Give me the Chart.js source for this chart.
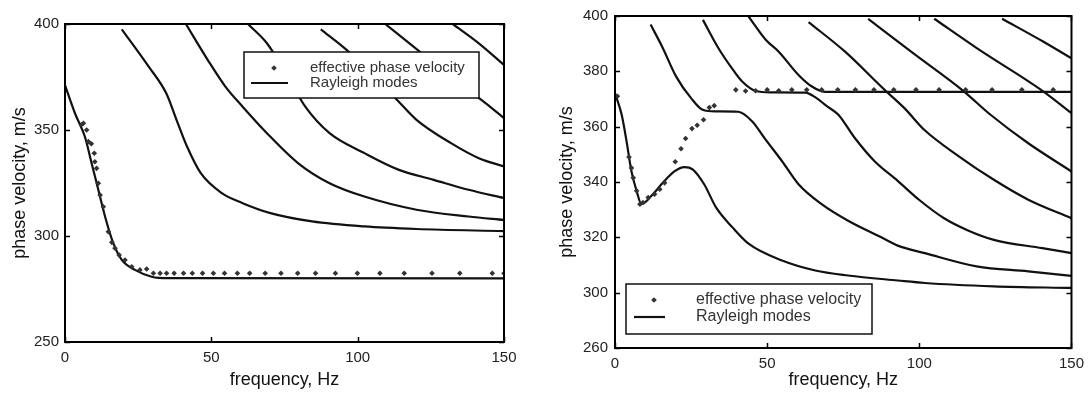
<!DOCTYPE html>
<html>
<head>
<meta charset="utf-8">
<script src="https://cdn.jsdelivr.net/npm/chart.js@4.4.1/dist/chart.umd.min.js"></script>
<style>
  body { margin: 0; background: #fff; }
  #wrap { position: relative; width: 1091px; height: 399px; }
  #left { position: absolute; left: 0; top: 0; }
  #right { position: absolute; left: 545px; top: 0; }
</style>
</head>
<body>
<div id="wrap">
  <canvas id="left" width="545" height="399"></canvas>
  <canvas id="right" width="546" height="399"></canvas>
</div>
<script>
// ---- left panel: [frequency Hz, phase velocity m/s] ----
var leftEffective = [[5.6,352.5],[6.3,353.2],[7.4,350],[8.0,344.5],[9.0,343.5],[10.0,339],[10.2,335],[10.8,331.9],
  [11.4,324.9],[12.0,319.3],[13.1,313.8],[14.8,302],[16.0,297],[17.1,294.2],[18.5,291],[20.5,288.7],[22.8,285.5],
  [25.6,284],[27.9,284.4],[30.2,282.4],[32.5,282.4],[34.7,282.4],[37.3,282.4],[40.5,282.4],[43.5,282.4],[47.0,282.4],
  [50.7,282.4],[54.5,282.4],[58.9,282.4],[63.1,282.4],[68.4,282.4],[73.8,282.4],[79.5,282.4],[85.6,282.4],[92.4,282.4],
  [99.9,282.4],[107.6,282.4],[115.9,282.4],[125.4,282.4],[134.9,282.4],[146.0,282.4],[150,282.4]];
var leftMode0 = [[0,371.2],[3.4,357.9],[6.8,346.8],[9.1,334.3],[11.4,321.7],[13.7,309.1],[16.5,296.6],[19.4,288.7],
  [23.9,284],[29.6,280.8],[35.3,280.1],[150,280]];
var leftMode1 = [[19.4,397.5],[28.6,379.9],[34.6,367.3],[38.1,354.8],[41.7,342.2],[46.4,329.6],[53.6,320.2],[60.7,315.5],
  [70.2,310.8],[84.4,306.9],[102.3,304.5],[120.1,303.3],[150,302.3]];
var leftMode2 = [[41.3,400],[48.8,383],[54.8,370.5],[60.7,361],[69,348.5],[79.7,334.3],[90.4,324.9],[102.3,318.6],
  [120.1,312.4],[137.9,309.2],[150,307.6]];
var leftMode3 = [[62.5,400],[69,390.9],[76.1,375.2],[82.1,361],[90.4,348.5],[102.3,339.1],[114.1,331.2],[126,326.5],
  [137.9,321.8],[150,317.9]];
var leftMode4 = [[87.4,397.5],[96.3,387.7],[112.9,365],[120.1,354.8],[131.9,343.8],[141.4,336.7],[150,332.8]];
var leftMode5 = [[109.4,400],[117.7,390.9],[131.9,375.1],[143.8,362.6],[150,355.6]];
var leftMode6 = [[132.5,400],[141.4,390.9],[150,380.7]];
var leftXTicks = [0, 50, 100, 150];
var leftYTicks = [250, 300, 350, 400];

// ---- right panel ----
var rightEffective = [[0.8,371],[4.6,349],[5.4,345.1],[6.0,341.5],[7.1,336.8],[8.2,332],[9.2,332.6],[10.9,334.4],
  [13.0,335.6],[14.7,337.4],[16.3,339.7],[19.8,347.3],[21.7,352],[23.2,355.7],[25.3,359.3],[27.0,360.5],[29.1,362.5],
  [31.0,366.9],[32.6,367.6],[39.7,373.3],[42.9,372.9],[46.2,373],[50.0,373.3],[53.8,373],[58.1,373.3],[63.0,373.3],
  [67.9,373.3],[73.2,373.3],[79.0,373.3],[85.1,373.3],[91.6,373.3],[98.9,373.3],[106.5,373.3],[115.2,373.3],
  [123.9,373.3],[133.7,373.3],[144.0,373.3]];
var rightMode0 = [[0,372.1],[2.2,364.3],[3.8,354.7],[5.4,343.9],[7.1,336.8],[8.7,332],[12.0,335],[15.7,339.7],
  [19.6,343.9],[22.8,345.4],[25.5,344.6],[29.3,339.2],[33.2,330.8],[38.6,323.6],[44,317.6],[54.9,311.6],[65.8,308],
  [76.6,306.2],[92.9,304.4],[101.8,303.5],[124.5,302.3],[150,301.7]];
var rightMode1 = [[11.7,396.9],[15.5,388.9],[20.1,378.1],[25.0,370.3],[28.8,366.1],[33,365.5],[40.5,365.4],[45.1,361.9],
  [49.5,355.3],[54.9,347.5],[60.3,339.2],[67.9,332],[76.6,326],[87.5,320],[92.9,317],[101.8,314.3],[118.8,309.5],
  [135.8,307.7],[150,306.1]];
var rightMode2 = [[28.9,398.6],[33.7,388.9],[38.8,380.5],[41.8,376.3],[46.2,372.9],[51.1,372.4],[62.5,372.3],[66,370.5],
  [69.5,367.5],[73.4,364.3],[78.8,355.9],[85.3,347.5],[92.9,340.4],[100,333.5],[108,327],[116,322.5],[124.5,319.1],
  [140.4,316.1],[150,314.3]];
var rightMode3 = [[43.9,399.8],[49.6,391.3],[53.8,387.1],[60.3,378.7],[64.7,374.5],[69,372.6],[150,372.6]];
var rightMode4 = [[63.6,397.8],[75.6,387.1],[88.6,373.3],[95.1,366.7],[101.6,358.9],[113.1,349.2],[124.5,340.8],
  [135.8,333.6],[150,326.9]];
var rightMode5 = [[83.2,399],[97.3,387.1],[114.7,372.7],[123.4,364.3],[135.8,354],[150,343.8]];
var rightMode6 = [[104.9,399],[119,388.3],[140.8,372.7],[150,364.9]];
var rightMode7 = [[127.2,399],[140.8,390.7],[150,384.7]];
var rightXTicks = [0, 50, 100, 150];
var rightYTicks = [280, 300, 320, 340, 360, 380, 400];
var rightYLabels = ['260', '300', '320', '340', '360', '380', '400'];

var legendTexts = ['effective phase velocity', 'Rayleigh modes'];
var FONT = '"Liberation Sans", Arial, sans-serif';

function pts(arr) {
  return arr.map(function(p) { return {x: p[0], y: p[1]}; });
}

function lineSet(arr) {
  return {
    data: pts(arr),
    showLine: true,
    borderColor: '#111',
    borderWidth: 2.2,
    pointRadius: 0,
    cubicInterpolationMode: 'monotone',
    order: 2
  };
}

function dotSet(arr) {
  return {
    data: pts(arr),
    showLine: false,
    pointStyle: 'rectRot',
    pointRadius: 2.8,
    backgroundColor: '#333',
    borderColor: '#333',
    borderWidth: 0,
    order: 1
  };
}

// border + inward ticks on all four sides
var framePlugin = {
  id: 'frame',
  afterDatasetsDraw: function(chart) {
    var ctx = chart.ctx, a = chart.chartArea, sx = chart.scales.x, sy = chart.scales.y;
    ctx.save();
    ctx.strokeStyle = '#000';
    ctx.lineWidth = 1.5;
    ctx.beginPath();
    sx.ticks.forEach(function(t) {
      var px = Math.round(sx.getPixelForValue(t.value)) + 0.5;
      ctx.moveTo(px, a.bottom); ctx.lineTo(px, a.bottom - 5);
      ctx.moveTo(px, a.top); ctx.lineTo(px, a.top + 5);
    });
    sy.ticks.forEach(function(t) {
      var py = Math.round(sy.getPixelForValue(t.value)) + 0.5;
      ctx.moveTo(a.left, py); ctx.lineTo(a.left + 5, py);
      ctx.moveTo(a.right, py); ctx.lineTo(a.right - 5, py);
    });
    ctx.stroke();
    ctx.lineWidth = 2;
    ctx.strokeRect(a.left, a.top, a.right - a.left, a.bottom - a.top);
    ctx.restore();
  }
};

// boxed legend drawn inside the plot
var boxLegendPlugin = {
  id: 'boxLegend',
  afterDraw: function(chart, args, o) {
    var ctx = chart.ctx;
    ctx.save();
    ctx.fillStyle = '#fff';
    ctx.fillRect(o.x, o.y, o.w, o.h);
    ctx.strokeStyle = '#111';
    ctx.lineWidth = 1.5;
    ctx.strokeRect(o.x, o.y, o.w, o.h);
    // marker sample
    ctx.fillStyle = '#333';
    ctx.beginPath();
    ctx.moveTo(o.dotX, o.row1 - 2.8); ctx.lineTo(o.dotX + 2.8, o.row1);
    ctx.lineTo(o.dotX, o.row1 + 2.8); ctx.lineTo(o.dotX - 2.8, o.row1);
    ctx.closePath(); ctx.fill();
    // line sample
    ctx.strokeStyle = '#111';
    ctx.lineWidth = 2.2;
    ctx.beginPath();
    ctx.moveTo(o.lineX0, o.row2); ctx.lineTo(o.lineX1, o.row2);
    ctx.stroke();
    ctx.fillStyle = '#333';
    ctx.font = o.fontSize + 'px ' + FONT;
    ctx.textBaseline = 'middle';
    ctx.textAlign = 'left';
    ctx.fillText(legendTexts[0], o.textX, o.row1);
    ctx.fillText(legendTexts[1], o.textX, o.row2);
    ctx.restore();
  }
};

function makeChart(id, cfg) {
  return new Chart(document.getElementById(id), {
    type: 'scatter',
    data: { datasets: cfg.datasets },
    plugins: [framePlugin, boxLegendPlugin],
    options: {
      responsive: false,
      animation: false,
      events: [],
      layout: { padding: cfg.padding },
      plugins: {
        legend: { display: false },
        tooltip: { enabled: false },
        boxLegend: cfg.legend
      },
      scales: {
        x: {
          type: 'linear', min: 0, max: 150,
          afterBuildTicks: function(s) { s.ticks = cfg.xTicks.map(function(v) { return {value: v}; }); },
          afterFit: function(s) { s.height = cfg.xHeight; },
          grid: { display: false, drawTicks: false },
          border: { display: false },
          ticks: { color: '#222', font: { family: FONT, size: 15 }, padding: 7, maxRotation: 0 },
          title: { display: true, text: 'frequency, Hz', color: '#111',
                   font: { family: FONT, size: 18 }, padding: { top: 0, bottom: 8 } }
        },
        y: {
          type: 'linear', min: cfg.yMin, max: 400,
          afterBuildTicks: function(s) { s.ticks = cfg.yTicks.map(function(v) { return {value: v}; }); },
          afterFit: function(s) { s.width = cfg.yWidth; },
          grid: { display: false, drawTicks: false },
          border: { display: false },
          ticks: { color: '#222', font: { family: FONT, size: 15 }, padding: cfg.yTickPad,
                   callback: cfg.yLabel },
          title: { display: true, text: 'phase velocity, m/s', color: '#111',
                   font: { family: FONT, size: 18 }, padding: { top: cfg.yTitlePad, bottom: 0 } }
        }
      }
    }
  });
}

makeChart('left', {
  datasets: [lineSet(leftMode0), lineSet(leftMode1), lineSet(leftMode2), lineSet(leftMode3),
             lineSet(leftMode4), lineSet(leftMode5), lineSet(leftMode6), dotSet(leftEffective)],
  padding: { left: 0, top: 24, right: 41, bottom: 0 },
  xTicks: leftXTicks, yTicks: leftYTicks, yMin: 250,
  xHeight: 57, yWidth: 65, yTitlePad: 9, yTickPad: 6,
  yLabel: function(v) { return String(v); },
  legend: { x: 244, y: 52, w: 235, h: 46, dotX: 274, lineX0: 251, lineX1: 288,
            textX: 310, row1: 68, row2: 83, fontSize: 15 }
});

makeChart('right', {
  datasets: [lineSet(rightMode0), lineSet(rightMode1), lineSet(rightMode2), lineSet(rightMode3),
             lineSet(rightMode4), lineSet(rightMode5), lineSet(rightMode6), lineSet(rightMode7),
             dotSet(rightEffective)],
  padding: { left: 0, top: 14, right: 16, bottom: 0 },
  xTicks: rightXTicks, yTicks: rightYTicks, yMin: 280,
  xHeight: 51, yWidth: 70, yTitlePad: 11, yTickPad: 7,
  yLabel: function(v) { var i = rightYTicks.indexOf(v); return i >= 0 ? rightYLabels[i] : ''; },
  legend: { x: 81, y: 284, w: 246, h: 50, dotX: 109, lineX0: 89, lineX1: 120,
            textX: 151, row1: 300, row2: 317, fontSize: 16 }
});
</script>
</body>
</html>
